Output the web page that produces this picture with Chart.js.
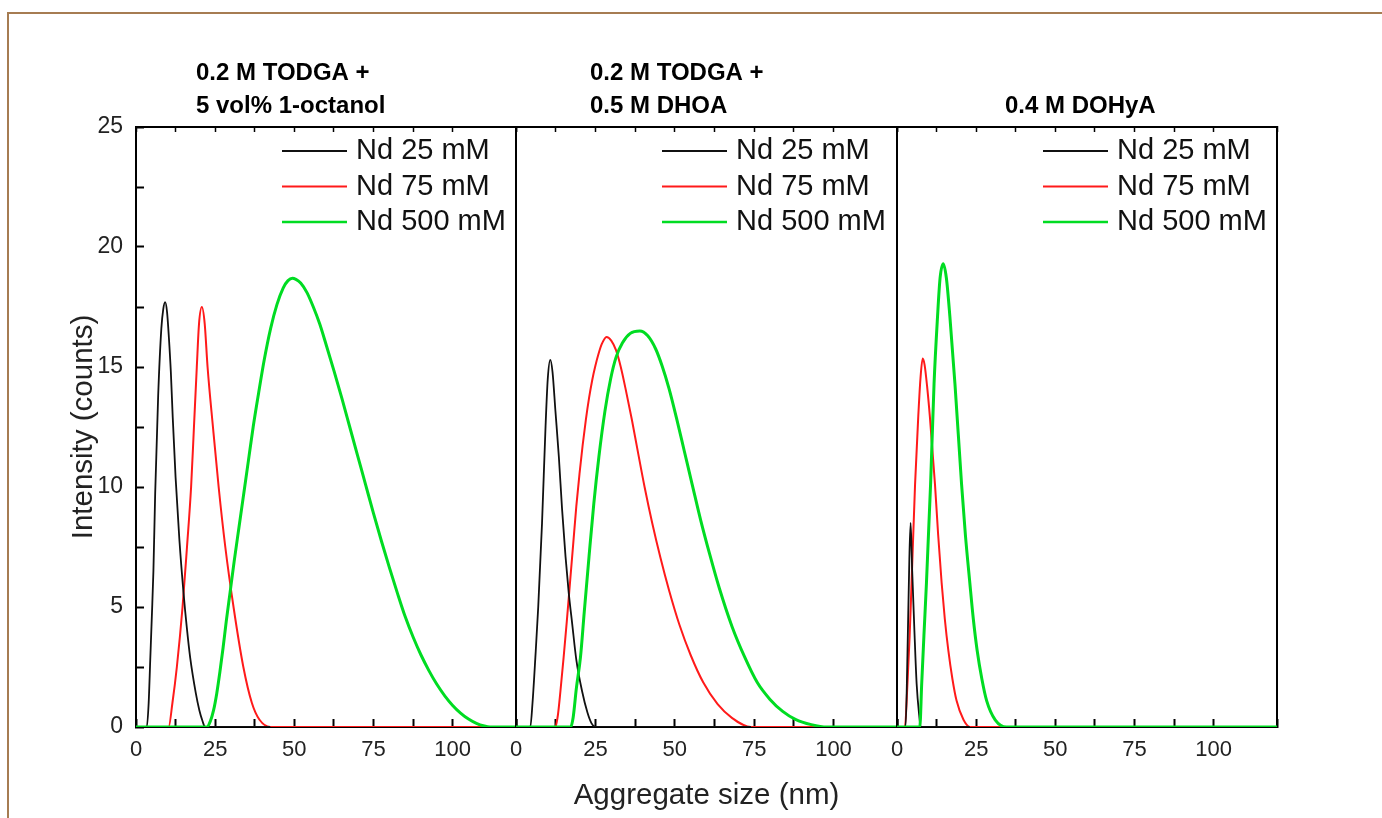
<!DOCTYPE html>
<html>
<head>
<meta charset="utf-8">
<script src="https://cdn.jsdelivr.net/npm/chart.js@4/dist/chart.umd.min.js"></script>
<style>
  body { margin: 0; background: #fff; }
  #wrap { position: relative; width: 1382px; height: 818px; overflow: hidden; }
  #frame { position: absolute; left: 7px; top: 12px; right: -10px; bottom: -10px;
           border-top: 2px solid #a67c52; border-left: 2px solid #a67c52; }
  canvas { position: absolute; left: 0; top: 0; }
</style>
</head>
<body>
<div id="wrap">
  <div id="frame"></div>
  <canvas id="p1" width="1382" height="818"></canvas>
  <canvas id="p2" width="1382" height="818"></canvas>
  <canvas id="p3" width="1382" height="818"></canvas>
</div>
<script>
// DLS : distribution de taille des agrégats, 3 systèmes extractants
// points : [taille (nm), intensité (counts)]

const seriesLabels = ['Nd 25 mM', 'Nd 75 mM', 'Nd 500 mM'];
const seriesColors = ['#111111', '#ff1a1a', '#00dc22'];
const seriesWidths = [1.8, 2, 3];

const panelTitles = [
  ['0.2 M TODGA +', '5 vol% 1-octanol'],
  ['0.2 M TODGA +', '0.5 M DHOA'],
  ['', '0.4 M DOHyA']
];

// 0.2 M TODGA + 5 vol% 1-octanol
const octanolNd25 = [[0,0],[3.4,0],[4,1],[4.5,2.8],[5,4.6],[5.5,6.5],[6.05,9.7],[7,13.8],[8,16.6],[8.6,17.4],[9.2,17.7],
  [9.8,17.3],[10.4,16.2],[11,14.8],[11.6,12.9],[12.5,10.4],[13.7,7.8],[15,5.6],[16,4.2],[17.1,2.9],[18.9,1.4],
  [20,0.7],[21,0.25],[21.8,0],[42.4,0]];
const octanolNd75 = [[0,0],[10.3,0],[11.5,1],[12.9,2.5],[14.7,5],[16.1,7.5],[17.4,10],[18.3,12.5],[19.2,15],[19.9,16.8],
  [20.8,17.5],[21.7,16.8],[22.6,15],[24.3,12.5],[26.1,10],[28.2,7.5],[30.8,5],[33.9,2.5],[36.6,1],[39,0.3],[42.4,0],[120,0]];
const octanolNd500 = [[0,0],[22.4,0],[23.5,0.25],[24.5,0.7],[25.5,1.4],[26.5,2.3],[27.5,3.3],[28.5,4.4],[29.7,5.6],[31,6.9],
  [32.5,8.3],[34,9.7],[35.5,11.1],[37,12.5],[38.7,13.9],[40.5,15.3],[42.5,16.6],[44.5,17.6],[46.5,18.3],[48,18.6],
  [49.4,18.7],[50.5,18.65],[52,18.5],[54,18.1],[56,17.5],[58,16.8],[60,15.95],[62.5,14.85],[65,13.7],[67.5,12.5],
  [70,11.3],[72.5,10.1],[75,8.9],[77.5,7.75],[80,6.65],[82.5,5.6],[85,4.6],[87.5,3.75],[90,3.0],[92.5,2.35],[95,1.78],
  [97.5,1.3],[100,0.9],[102.5,0.58],[105,0.33],[107.5,0.15],[110,0.04],[111.8,0],[120,0]];

// 0.2 M TODGA + 0.5 M DHOA
const dhoaNd25 = [[0,0],[4.5,0],[5.2,1],[6.1,2.9],[7,5],[8.2,8.5],[9.3,12.5],[10,14.5],[10.8,15.3],[11.5,14.8],
  [12.4,13.2],[13.5,11.25],[14.5,9.1],[15.6,7.1],[16.6,5.6],[17.7,4.3],[19,2.8],[20.8,1.5],[22.5,0.6],[23.8,0.15],[25,0],[74,0]];
const dhoaNd75 = [[0,0],[12.4,0],[13.2,0.5],[14,1.5],[15,2.9],[16,4.4],[17,6],[18,7.6],[19,9.2],[20,10.55],[21,11.75],
  [22,12.8],[23,13.7],[24,14.45],[25,15.05],[26,15.55],[27,15.95],[28.5,16.25],[30,16.1],[31.5,15.7],[33,15],[34.5,14.1],
  [36.5,12.8],[38.2,11.6],[40.5,10],[42.9,8.5],[45.5,7.05],[48.2,5.7],[51.5,4.25],[55,3],[59,1.85],[63.5,0.95],
  [68,0.38],[74,0],[120,0]];
const dhoaNd500 = [[0,0],[17.2,0],[18,0.4],[19,1.6],[20.3,2.9],[21.5,4.8],[23,7.1],[24.5,9.3],[26.1,11.25],[28,13.15],
  [29.8,14.5],[31.5,15.4],[33.5,16],[36,16.4],[39,16.5],[41.5,16.3],[44,15.75],[46,15.05],[48.2,14.1],[50.5,12.9],
  [53,11.5],[55.5,10.1],[58.2,8.6],[61,7.2],[64,5.8],[68,4.2],[71.9,2.95],[76,1.85],[80,1.15],[84,0.65],[88,0.32],
  [93,0.1],[98,0],[120,0]];

// 0.4 M DOHyA
const dohyaNd25 = [[0,0],[2.7,0],[3.3,3],[3.9,7],[4.3,8.5],[4.8,6.5],[5.5,4],[6.2,1.8],[7,0.5],[7.5,0],[23,0]];
const dohyaNd75 = [[0,0],[2.5,0],[3.3,1.8],[4,3.8],[4.6,6],[5.7,10.1],[6.7,12.9],[7.4,14.5],[8.1,15.35],[8.7,15.1],
  [9.5,14.2],[10.4,12.9],[12,10.1],[13,8],[14.1,6],[15.1,4.5],[16.2,3.2],[17.5,2],[18.8,1.1],[21,0.3],[23,0],[120,0]];
const dohyaNd500 = [[0,0],[7.2,0],[7.8,1.8],[8.5,3.8],[9.3,6],[10.6,10.1],[11.7,14.3],[12.8,17.1],[13.6,18.7],[14.6,19.3],
  [15.6,18.7],[16.7,17.1],[18.3,14.3],[20.4,10.1],[21.6,8],[23,6],[24.1,4.5],[25.3,3.2],[26.8,2],[28.3,1.1],[31,0.3],
  [34.6,0],[120,0]];

const panels = [
  [octanolNd25, octanolNd75, octanolNd500],
  [dhoaNd25, dhoaNd75, dhoaNd500],
  [dohyaNd25, dohyaNd75, dohyaNd500]
];

const FONT = "'Liberation Sans', Arial, sans-serif";
// bords des zones de tracé (px)
const edges = [136, 516, 897, 1277];
const plotTop = 127, plotBottom = 727, W = 1382, H = 818;

// légende dans le cadre, en haut à droite
const inlineLegend = {
  id: 'inlineLegend',
  afterDraw(chart, args, opts) {
    const {ctx, chartArea} = chart;
    ctx.save();
    ctx.font = opts.font;
    ctx.textBaseline = 'middle';
    ctx.textAlign = 'left';
    chart.data.datasets.forEach((ds, i) => {
      let x = chartArea.left + opts.left;
      let y = chartArea.top + opts.top + i * opts.rowHeight;
      ctx.strokeStyle = ds.borderColor;
      ctx.lineWidth = Math.min(ds.borderWidth, 2.5);
      ctx.beginPath();
      ctx.moveTo(x, y);
      ctx.lineTo(x + opts.lineLength, y);
      ctx.stroke();
      ctx.fillStyle = '#111';
      ctx.fillText(ds.label, x + opts.lineLength + opts.gap, y);
    });
    ctx.restore();
  }
};

// titre de chaque panneau (aligné à gauche)
const panelTitle = {
  id: 'panelTitle',
  afterDraw(chart, args, opts) {
    const {ctx, chartArea} = chart;
    ctx.save();
    ctx.font = opts.font;
    ctx.fillStyle = '#000';
    ctx.textBaseline = 'middle';
    opts.lines.forEach((t, i) => {
      if (t) ctx.fillText(t, chartArea.left + opts.left, opts.y[i]);
    });
    ctx.restore();
  }
};

function makePanel(canvasId, idx) {
  const first = idx === 0;
  const middle = idx === 1;
  const datasets = panels[idx].map((pts, k) => ({
    label: seriesLabels[k],
    data: pts.map(p => ({x: p[0], y: p[1]})),
    borderColor: seriesColors[k],
    borderWidth: seriesWidths[k],
    pointRadius: 0,
    fill: false,
    cubicInterpolationMode: 'monotone',
    order: [1, 2, 0][k]
  }));

  const tickGrid = {drawOnChartArea: false, drawTicks: true, tickLength: -8, tickWidth: 2, tickColor: '#000'};
  const border = {display: true, color: '#000', width: 2};

  new Chart(document.getElementById(canvasId), {
    type: 'line',
    data: {datasets: datasets},
    plugins: [inlineLegend, panelTitle],
    options: {
      responsive: false,
      animation: false,
      devicePixelRatio: 1,
      layout: {
        padding: {
          left: first ? 0 : edges[idx],
          right: W - edges[idx + 1],
          top: plotTop,
          bottom: 0
        }
      },
      plugins: {
        legend: {display: false},
        tooltip: {enabled: false},
        inlineLegend: {
          font: '29px ' + FONT,
          left: 146, top: 24, rowHeight: 35.5, lineLength: 65, gap: 9
        },
        panelTitle: {
          font: 'bold 24px ' + FONT,
          lines: panelTitles[idx],
          left: [60, 74, 108][idx],
          y: [73, 106]
        }
      },
      scales: {
        x: {
          type: 'linear',
          position: 'bottom',
          min: 0, max: 120,
          afterFit: s => { s.height = H - plotBottom; },
          grid: tickGrid,
          border: border,
          ticks: {
            stepSize: 12.5,
            autoSkip: false,
            maxRotation: 0,
            padding: 18,
            color: '#222',
            font: {family: FONT, size: 22},
            callback: v => (v % 25 === 0 ? v : '')
          },
          title: {
            display: middle,
            text: 'Aggregate size (nm)',
            color: '#222',
            font: {family: FONT, size: 29.5},
            padding: {top: 0, bottom: 4}
          }
        },
        xTop: {
          type: 'linear',
          position: 'top',
          min: 0, max: 120,
          afterFit: s => { s.height = 0; },
          grid: {drawOnChartArea: false, drawTicks: true, tickLength: -5, tickWidth: 1.5, tickColor: '#000'},
          border: border,
          ticks: {stepSize: 12.5, display: false}
        },
        y: {
          type: 'linear',
          position: 'left',
          min: 0, max: 25,
          afterFit: s => { s.width = first ? edges[0] : 0; },
          grid: first ? tickGrid : {drawOnChartArea: false, drawTicks: false},
          border: border,
          ticks: {
            display: first,
            stepSize: 2.5,
            autoSkip: false,
            padding: 21,
            color: '#222',
            font: {family: FONT, size: 23},
            callback: v => (v % 5 === 0 ? v : '')
          },
          title: {
            display: first,
            text: 'Intensity (counts)',
            color: '#222',
            font: {family: FONT, size: 29.5},
            padding: {top: 66, bottom: 0}
          }
        },
        yRight: {
          type: 'linear',
          position: 'right',
          min: 0, max: 25,
          afterFit: s => { s.width = 0; },
          grid: {drawOnChartArea: false, drawTicks: false},
          border: border,
          ticks: {display: false}
        }
      }
    }
  });
}

makePanel('p1', 0);
makePanel('p2', 1);
makePanel('p3', 2);
</script>
</body>
</html>
